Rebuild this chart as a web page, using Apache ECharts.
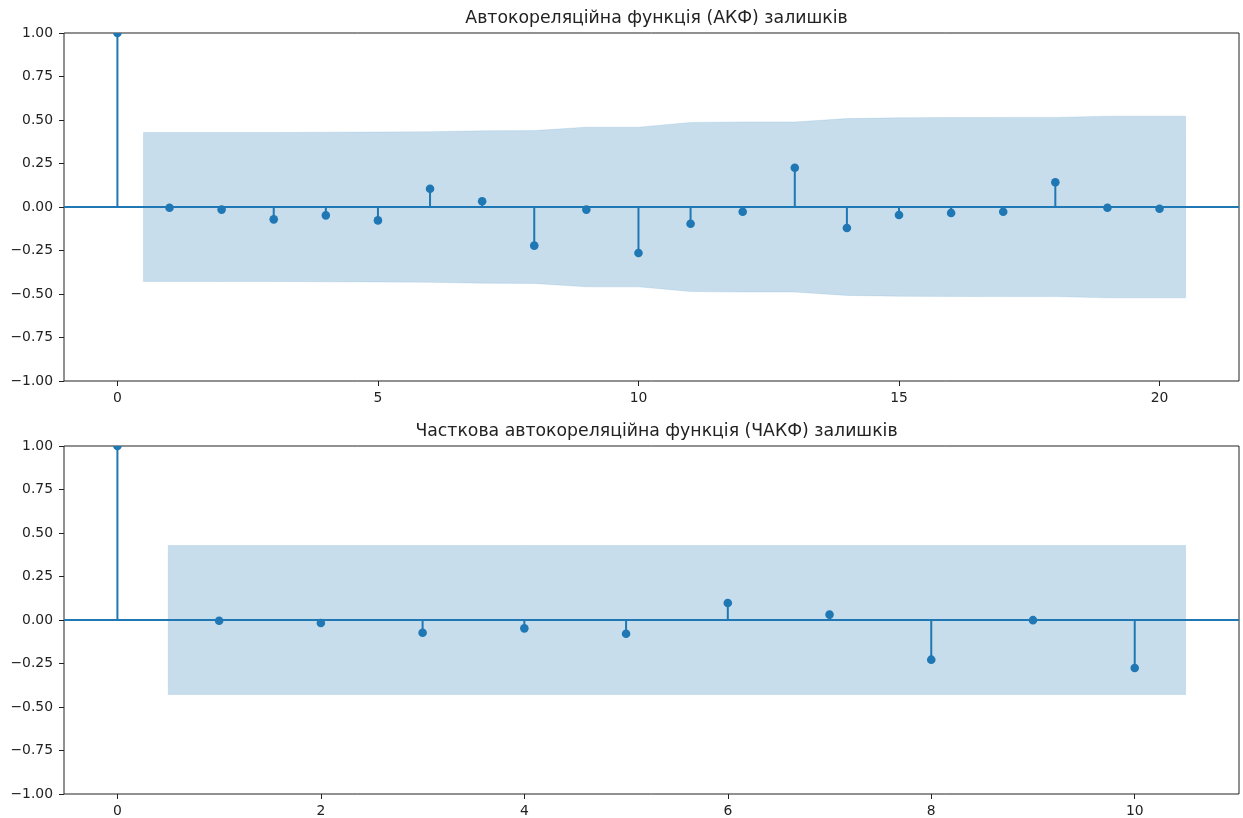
<!DOCTYPE html>
<html>
<head>
<meta charset="utf-8">
<script src="https://cdn.jsdelivr.net/npm/echarts@6/dist/echarts.min.js"></script>
<style>
  html, body { margin: 0; padding: 0; background: #fff; }
  #chart { width: 1243px; height: 818px; }
</style>
</head>
<body>
<div id="chart"></div>
<script>
// ACF of residuals, lags 0..20
const acfLags = [0, 1, 2, 3, 4, 5, 6, 7, 8, 9, 10, 11, 12, 13, 14, 15, 16, 17, 18, 19, 20];
const acfValues = [1, -0.004, -0.015, -0.071, -0.048, -0.077, 0.105, 0.033, -0.222, -0.015, -0.264,
                   -0.096, -0.027, 0.226, -0.121, -0.046, -0.034, -0.027, 0.142, -0.004, -0.010];
// 95% confidence band half-width (lags 1..20; first/last x shifted by 0.5)
const acfBandX = [0.5, 2, 3, 4, 5, 6, 7, 8, 9, 10, 11, 12, 13, 14, 15, 16, 17, 18, 19, 20.5];
const acfBand = [0.428, 0.428, 0.428, 0.430, 0.431, 0.433, 0.438, 0.439, 0.459, 0.459,
                 0.486, 0.489, 0.489, 0.508, 0.513, 0.514, 0.515, 0.515, 0.522, 0.522];

// PACF of residuals, lags 0..10
const pacfLags = [0, 1, 2, 3, 4, 5, 6, 7, 8, 9, 10];
const pacfValues = [1, -0.004, -0.017, -0.073, -0.048, -0.079, 0.098, 0.031, -0.228, -0.001, -0.276];
const pacfBandX = [0.5, 2, 3, 4, 5, 6, 7, 8, 9, 10.5];
const pacfBand = [0.428, 0.428, 0.428, 0.428, 0.428, 0.428, 0.428, 0.428, 0.428, 0.428];

const titles = ['Автокореляційна функція (АКФ) залишків', 'Часткова автокореляційна функція (ЧАКФ) залишків'];
const yTicks = [-1, -0.75, -0.5, -0.25, 0, 0.25, 0.5, 0.75, 1];
const acfXTicks = [0, 5, 10, 15, 20];
const pacfXTicks = [0, 2, 4, 6, 8, 10];

const BLUE = '#1f77b4';
const INK = '#222';
const FONT = 'DejaVu Sans';

function fmtY(v) {
  const s = Math.abs(v).toFixed(2);
  return v < 0 ? '\u2212' + s : s;
}

function xAxis(gridIndex, min, max, ticks) {
  return {
    type: 'value', gridIndex, min, max, position: 'bottom',
    splitLine: { show: false },
    axisLine: { show: false, onZero: false },
    axisTick: { show: true, inside: false, length: 5, customValues: ticks,
                lineStyle: { color: INK, width: 1 } },
    axisLabel: { customValues: ticks, margin: 10, color: INK, fontSize: 13.9, fontFamily: FONT,
                 formatter: v => String(v) }
  };
}
function yAxis(gridIndex) {
  return {
    type: 'value', gridIndex, min: -1, max: 1, position: 'left',
    splitLine: { show: false },
    axisLine: { show: false, onZero: false },
    axisTick: { show: true, inside: false, length: 5, customValues: yTicks,
                lineStyle: { color: INK, width: 1 } },
    axisLabel: { customValues: yTicks, margin: 11, color: INK, fontSize: 13.9, fontFamily: FONT,
                 formatter: fmtY }
  };
}

// shaded confidence region, one polygon through the band points
function bandSeries(idx, xs, hw) {
  return {
    type: 'custom', xAxisIndex: idx, yAxisIndex: idx, clip: true, silent: true, z: 5,
    data: xs.map((x, i) => [x, hw[i]]),
    renderItem: function (params, api) {
      if (params.dataIndex !== 0) return null;
      const pts = [];
      for (let i = 0; i < xs.length; i++) pts.push(api.coord([xs[i], hw[i]]));
      for (let i = xs.length - 1; i >= 0; i--) pts.push(api.coord([xs[i], -hw[i]]));
      return { type: 'polygon', shape: { points: pts },
               style: { fill: 'rgba(31,119,180,0.25)', stroke: 'rgba(31,119,180,0.25)', lineWidth: 0.5 } };
    }
  };
}

// vertical stem from zero to the value, topped with a dot (clipped to the plot area)
function stemSeries(idx, lags, vals) {
  return {
    type: 'custom', xAxisIndex: idx, yAxisIndex: idx, clip: true, silent: true, z: 3,
    data: lags.map((l, i) => [l, vals[i]]),
    renderItem: function (params, api) {
      const p0 = api.coord([api.value(0), 0]);
      const p1 = api.coord([api.value(0), api.value(1)]);
      return {
        type: 'group',
        children: [
          { type: 'line', shape: { x1: p0[0], y1: p0[1], x2: p1[0], y2: p1[1] },
            style: { stroke: BLUE, lineWidth: 2 } },
          { type: 'circle', shape: { cx: p1[0], cy: p1[1], r: 4.3 },
            style: { fill: BLUE } }
        ]
      };
    }
  };
}

// horizontal zero line across the whole plot
function zeroLine(idx) {
  return {
    type: 'line', xAxisIndex: idx, yAxisIndex: idx, silent: true, data: [], z: 2,
    markLine: {
      silent: true, symbol: 'none', label: { show: false },
      lineStyle: { color: BLUE, width: 2, type: 'solid' },
      data: [{ yAxis: 0 }]
    }
  };
}

const chart = echarts.init(document.getElementById('chart'), null, { renderer: 'canvas' });
chart.setOption({
  animation: false,
  backgroundColor: '#fff',
  title: [
    { text: titles[0], left: 651.5, top: 5, textAlign: 'center',
      textStyle: { fontFamily: FONT, fontSize: 17.3, fontWeight: 'normal', color: INK } },
    { text: titles[1], left: 651.5, top: 418, textAlign: 'center',
      textStyle: { fontFamily: FONT, fontSize: 17.3, fontWeight: 'normal', color: INK } }
  ],
  grid: [
    { left: 64, top: 33, width: 1175, height: 348, show: true, borderColor: INK, borderWidth: 1, backgroundColor: 'transparent' },
    { left: 64, top: 446, width: 1175, height: 348, show: true, borderColor: INK, borderWidth: 1, backgroundColor: 'transparent' }
  ],
  xAxis: [xAxis(0, -1.025, 21.525, acfXTicks), xAxis(1, -0.525, 11.025, pacfXTicks)],
  yAxis: [yAxis(0), yAxis(1)],
  series: [
    zeroLine(0),
    bandSeries(0, acfBandX, acfBand),
    stemSeries(0, acfLags, acfValues),
    zeroLine(1),
    bandSeries(1, pacfBandX, pacfBand),
    stemSeries(1, pacfLags, pacfValues)
  ]
});
</script>
</body>
</html>
